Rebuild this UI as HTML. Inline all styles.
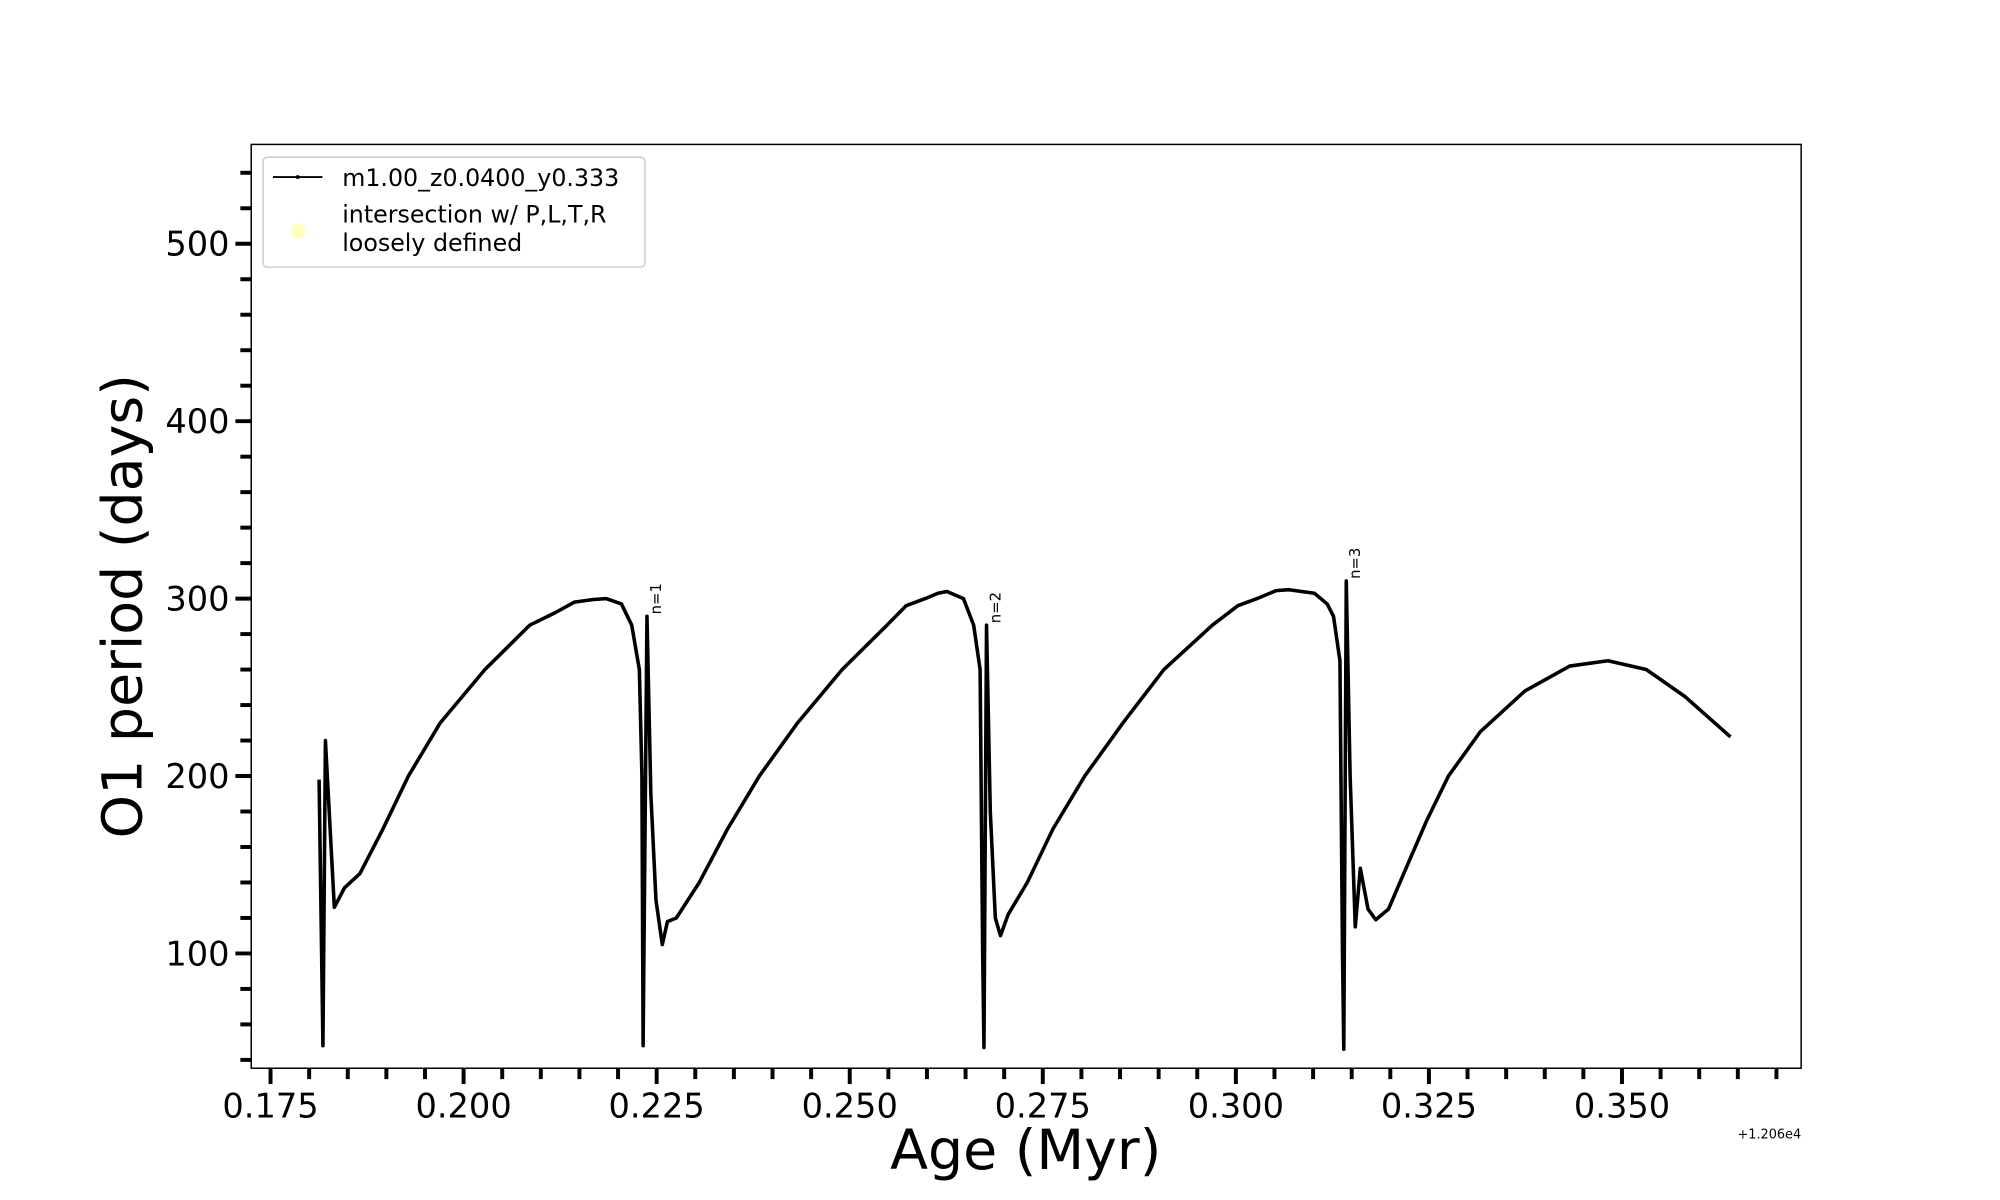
<!DOCTYPE html>
<html><head><meta charset="utf-8"><style>
html,body{margin:0;padding:0;background:#fff;}
svg{display:block;font-family:"DejaVu Sans","Liberation Sans",sans-serif;}
</style></head><body>
<svg id="chart" width="2000" height="1200" viewBox="0 0 2000 1200" xmlns="http://www.w3.org/2000/svg">
<rect width="2000" height="1200" fill="#fff"/>
<g transform="scale(0.9891)">
<g id="ticks"></g>
<g id="plot"></g>
<rect x="254" y="146" width="1567" height="934" fill="none" stroke="#000" stroke-width="1.5"/>
<text transform="translate(143,613) rotate(-90)" font-size="56" text-anchor="middle">O1 period (days)</text>
<text x="1037" y="1182" font-size="56" text-anchor="middle">Age (Myr)</text>
<text x="1821" y="1151" font-size="13" text-anchor="end">+1.206e4</text>
<g>
<rect x="266" y="159" width="386" height="111" rx="4" fill="#fff" stroke="#ccc" stroke-width="1.5"/>
<line x1="276" y1="179" x2="326" y2="179" stroke="#000" stroke-width="1.8"/>
<circle cx="301" cy="179" r="2" fill="#000"/>
<text x="346" y="188" font-size="24">m1.00_z0.0400_y0.333</text>
<ellipse cx="302" cy="234" rx="7" ry="8" fill="#ffffc0"/>
<text x="346" y="225" font-size="24">intersection w/ P,L,T,R</text>
<text x="346" y="254" font-size="24">loosely defined</text>
</g>
</g>
</svg>
<script>
const ages=[0.18128,0.18178,0.18211,0.18326,0.18458,0.18657,0.18954,0.19285,0.19698,0.20276,0.20855,0.21185,0.21433,0.21681,0.21846,0.22044,0.22177,0.22276,0.22309,0.22325,0.22375,0.22424,0.22491,0.22573,0.22639,0.22755,0.23052,0.23416,0.23829,0.24325,0.24903,0.25482,0.25730,0.25977,0.26143,0.26258,0.26473,0.26605,0.26688,0.26721,0.26738,0.26771,0.26820,0.26886,0.26952,0.27052,0.27299,0.27630,0.28043,0.28539,0.29068,0.29695,0.30026,0.30274,0.30522,0.30687,0.31017,0.31183,0.31265,0.31348,0.31381,0.31397,0.31430,0.31480,0.31546,0.31612,0.31712,0.31811,0.31976,0.32174,0.32472,0.32753,0.33166,0.33744,0.34323,0.34819,0.35314,0.35810,0.36405];
const periods=[198,48,220,126,137,145,170,200,230,260,285,292,298,299.5,300,297,285,260,200,48,290,190,130,105,118,120,140,170,200,230,260,285,296,300,303,304,300,285,260,100,47,285,180,120,110,122,140,170,200,230,260,285,296,300,304.5,305,303,297,290,265,100,46,310,200,115,148,125,119,125,145,175,200,225,248,262,265,260,245,222];
const xTicks=[0.175,0.200,0.225,0.250,0.275,0.300,0.325,0.350];
const xTickLabels=["0.175","0.200","0.225","0.250","0.275","0.300","0.325","0.350"];
const yTicks=[100,200,300,400,500];
const yTickLabels=["100","200","300","400","500"];
const annotAges=[0.22375,0.26771,0.31430];
const annotPeriods=[290,285,310];
const annotLabels=["n=1","n=2","n=3"];

const X0=254,X1=1821,Y0=146,Y1=1080;
const xmin=0.1725,xmax=0.3732,ymin=35.3,ymax=556;
const sx=v=>X0+(v-xmin)/(xmax-xmin)*(X1-X0);
const sy=v=>Y1-(v-ymin)/(ymax-ymin)*(Y1-Y0);
const NS="http://www.w3.org/2000/svg";
const tg=document.getElementById('ticks'),pg=document.getElementById('plot');
function mk(t,a,p){const e=document.createElementNS(NS,t);for(const k in a)e.setAttribute(k,a[k]);p.appendChild(e);return e;}
for(let i=0;i<=39;i++){const v=0.175+i*0.005;const x=sx(v);
 const l=mk('line',{x1:x,y1:Y1,x2:x,y2:Y1+(i%5==0?16:11),stroke:'#000','stroke-width':4},tg);
 
 }
xTicks.forEach((v,i)=>{const t=mk('text',{x:sx(v),y:Y1+50,'font-size':34,'text-anchor':'middle'},tg);t.textContent=xTickLabels[i];
 
 });
for(let v=40;v<=540;v+=20){const y=sy(v);
 const l=mk('line',{x1:X0,y1:y,x2:X0-(v%100==0?16:11),y2:y,stroke:'#000','stroke-width':4},tg);
 
 }
yTicks.forEach((v,i)=>{const t=mk('text',{x:X0-22,y:sy(v)+12,'font-size':34,'text-anchor':'end'},tg);t.textContent=yTickLabels[i];
 
 });
let d='';ages.forEach((a,i)=>{d+=(i?'L':'M')+sx(a).toFixed(1)+','+sy(periods[i]).toFixed(1);});
const path=mk('path',{d:d,fill:'none',stroke:'#000','stroke-width':3.6,'stroke-linejoin':'round'},pg);


annotAges.forEach((a,i)=>{const x=sx(a)+14,y=sy(annotPeriods[i])-2;
 const t=mk('text',{x:x,y:y,'font-size':15,transform:`rotate(-90 ${x} ${y})`},pg);t.textContent=annotLabels[i];
 
 });
</script>
</body></html>
